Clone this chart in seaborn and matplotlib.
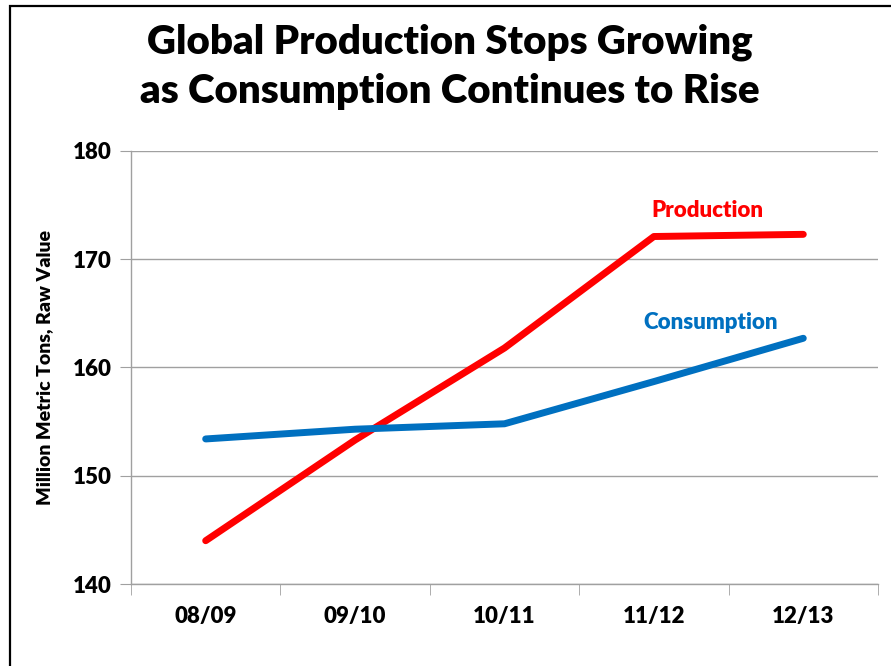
import pandas as pd
import seaborn as sns
import matplotlib.pyplot as plt
from matplotlib.patches import Rectangle

# Data
seasons = ["08/09", "09/10", "10/11", "11/12", "12/13"]
production = [144.0, 153.3, 161.8, 172.1, 172.3]
consumption = [153.4, 154.3, 154.8, 158.7, 162.7]

df = pd.DataFrame({
    "season": seasons * 2,
    "value": production + consumption,
    "series": ["Production"] * 5 + ["Consumption"] * 5,
})
df["x"] = list(range(5)) * 2

sns.set_style("white")
plt.rcParams["font.family"] = ["Lato", "DejaVu Sans"]
plt.rcParams["text.color"] = "black"
plt.rcParams["xtick.color"] = "black"
plt.rcParams["ytick.color"] = "black"
plt.rcParams["axes.labelcolor"] = "black"

W = "heavy"

fig = plt.figure(figsize=(8.91, 6.66), dpi=100)
ax = fig.add_axes([0.147, 0.1231, 0.8384, 0.6502])

palette = {"Production": "#FF0000", "Consumption": "#0070C0"}
sns.lineplot(data=df, x="x", y="value", hue="series", palette=palette,
             linewidth=5, legend=False, ax=ax, solid_capstyle="round")

ax.set_xlim(-0.5, 4.5)
ax.set_ylim(140, 180)
ax.set_yticks([140, 150, 160, 170, 180])
ax.set_xticks(range(5))
ax.set_xticklabels(seasons, fontsize=16, fontweight=W)
ax.set_xticks([-0.5, 0.5, 1.5, 2.5, 3.5, 4.5], minor=True)
ax.tick_params(axis="x", which="major", length=0, pad=16)
ax.tick_params(axis="x", which="minor", length=8, color="#A0A0A0", direction="out", bottom=True)
ax.tick_params(axis="y", length=8, color="#A0A0A0", direction="out", left=True, pad=6)
for lbl in ax.get_yticklabels():
    lbl.set_fontsize(16)
    lbl.set_fontweight(W)

ax.yaxis.grid(True, color="#A0A0A0", linewidth=1)
ax.set_axisbelow(True)
for side in ["top", "right"]:
    ax.spines[side].set_visible(False)
for side in ["left", "bottom"]:
    ax.spines[side].set_color("#A0A0A0")
    ax.spines[side].set_linewidth(1)

ax.set_xlabel("")
ax.set_ylabel("Million Metric Tons, Raw Value", fontsize=14, fontweight=W, labelpad=14)

ax.text(3.355, 174.5, "Production", color="#FF0000", fontsize=16, fontweight=W, ha="center", va="center")
ax.text(3.38, 164.2, "Consumption", color="#0070C0", fontsize=16, fontweight=W, ha="center", va="center")

fig.text(0.505, 0.937, "Global Production Stops Growing", fontsize=29, fontweight=W, ha="center", va="center")
fig.text(0.505, 0.863, "as Consumption Continues to Rise", fontsize=29, fontweight=W, ha="center", va="center")

# outer frame: only left and top edges fall inside the image
fig.patches.append(Rectangle((0.0107, -0.05), 1.1, 1.0417, transform=fig.transFigure,
                             fill=False, edgecolor="black", linewidth=1.6))

fig.savefig("out.png", dpi=100)
